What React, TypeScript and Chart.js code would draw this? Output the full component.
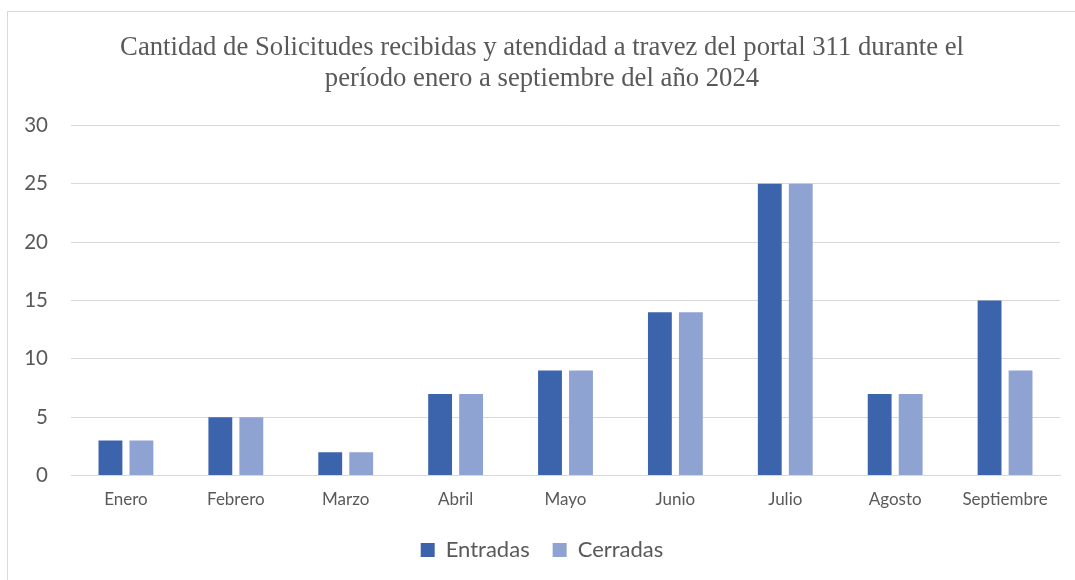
import React, { useEffect, useRef } from "react";
import { Chart, registerables } from "chart.js";

Chart.register(...registerables);

const months = ["Enero", "Febrero", "Marzo", "Abril", "Mayo", "Junio", "Julio", "Agosto", "Septiembre"];
const entradas = [3, 5, 2, 7, 9, 14, 25, 7, 15];
const cerradas = [3, 5, 2, 7, 9, 14, 25, 7, 9];
const titleLines = [
  "Cantidad de Solicitudes recibidas y atendidad a travez del portal 311 durante el",
  "período enero a septiembre del año 2024",
];

const SANS = "Lato, 'Open Sans', sans-serif";

const legendShift = {
  id: "legendShift",
  afterLayout(chart: any) {
    if (chart.legend) {
      chart.legend.top -= 8;
      chart.legend.bottom -= 8;
    }
  },
};

export default function App() {
  const ref = useRef<HTMLCanvasElement | null>(null);
  useEffect(() => {
    if (!ref.current) return;
    const chart = new Chart(ref.current, {
      type: "bar",
      data: {
        labels: months,
        datasets: [
          {
            label: "Entradas",
            data: entradas,
            backgroundColor: "#3c64ad",
            categoryPercentage: 0.564,
            barPercentage: 0.77,
          },
          {
            label: "Cerradas",
            data: cerradas,
            backgroundColor: "#8fa3d3",
            categoryPercentage: 0.564,
            barPercentage: 0.77,
          },
        ],
      },
      plugins: [legendShift],
      options: {
        animation: false,
        responsive: false,
        maintainAspectRatio: false,
        layout: { padding: { left: 24, right: 15, top: 0, bottom: 1 } },
        plugins: {
          title: {
            display: true,
            text: titleLines,
            color: "#595959",
            font: { family: "'Liberation Serif', 'Times New Roman', serif", size: 26.7, weight: "normal", lineHeight: 1.16 },
            padding: { top: 33, bottom: 30.5 },
          },
          legend: {
            position: "bottom",
            labels: {
              color: "#595959",
              font: { family: SANS, size: 22 },
              boxWidth: 14,
              boxHeight: 14,
              padding: 23,
            },
          },
          tooltip: { enabled: false },
        },
        scales: {
          x: {
            grid: { display: false, drawTicks: false },
            border: { display: true, color: "#d9d9d9", width: 1 },
            ticks: { color: "#595959", font: { family: SANS, size: 17 }, padding: 14 },
          },
          y: {
            min: 0,
            max: 30,
            grid: { color: "#d9d9d9", lineWidth: 1, drawTicks: false },
            border: { display: false },
            ticks: { stepSize: 5, color: "#595959", font: { family: SANS, size: 20.5 }, padding: 23 },
            afterFit: (scale: any) => {
              scale.width = 47;
            },
          },
        },
      },
    });
    return () => chart.destroy();
  }, []);
  return (
    <div style={{ position: "fixed", left: 0, top: 0, width: 1075, height: 580, overflow: "hidden", background: "#fff" }}>
      <div
        style={{
          position: "absolute",
          left: 7,
          top: 11,
          width: 1100,
          height: 620,
          border: "1px solid #d9d9d9",
          boxSizing: "border-box",
        }}
      />
      <canvas ref={ref} width={1075} height={580} style={{ position: "absolute", left: 0, top: 0 }} />
    </div>
  );
}
